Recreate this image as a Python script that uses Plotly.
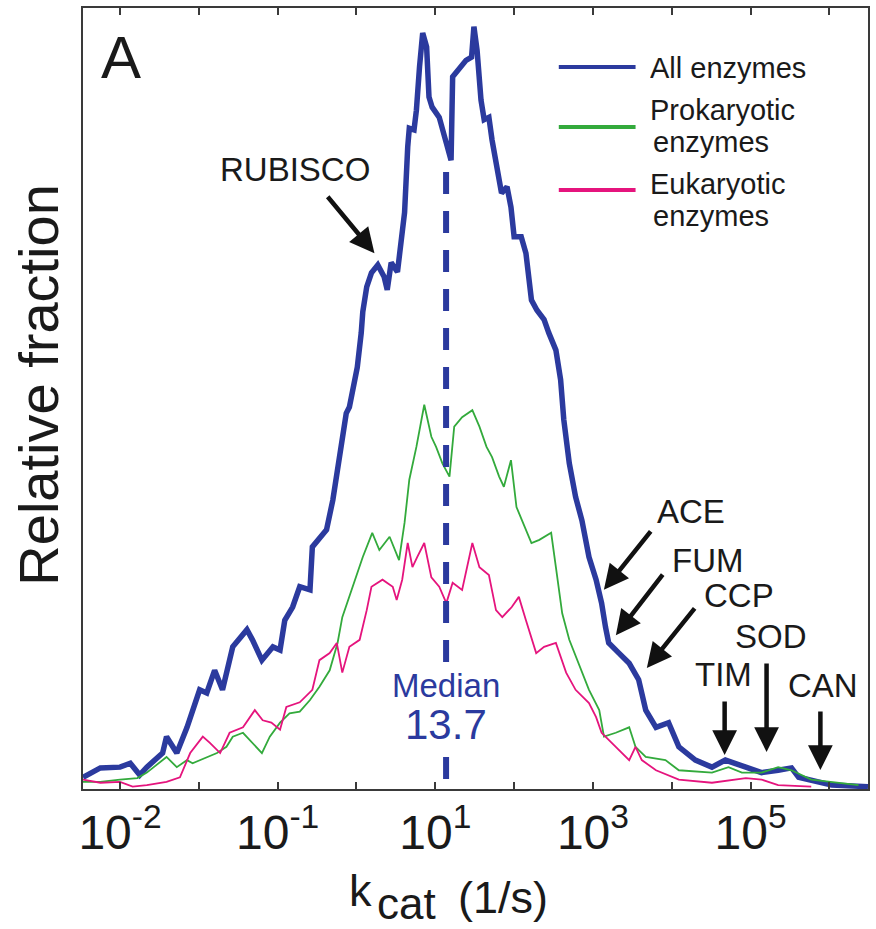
import math
import plotly.graph_objects as go

# ---- kcat distributions (log10 kcat in 1/s, relative fraction in arbitrary units) ----
all_logk = [-3.47, -3.25, -3.00, -2.87, -2.75, -2.66, -2.46, -2.41, -2.28, -2.15,
            -1.99, -1.90, -1.80, -1.70, -1.57, -1.39, -1.32, -1.20, -1.06, -0.97,
            -0.91, -0.81, -0.72, -0.59, -0.56, -0.38, -0.30, -0.13, -0.09, 0.01,
            0.06, 0.08, 0.13, 0.19, 0.27, 0.35, 0.39, 0.44, 0.52, 0.57,
            0.61, 0.65, 0.67, 0.73, 0.76, 0.80, 0.84, 0.89, 0.92, 0.96,
            1.05, 1.14, 1.20, 1.22, 1.30, 1.39, 1.46, 1.49, 1.53, 1.58,
            1.62, 1.68, 1.72, 1.77, 1.84, 1.91, 1.96, 2.00, 2.09, 2.15,
            2.22, 2.29, 2.38, 2.44, 2.53, 2.59, 2.63, 2.70, 2.78, 2.86,
            2.95, 3.04, 3.11, 3.16, 3.20, 3.33, 3.46, 3.58, 3.67, 3.80,
            3.96, 4.09, 4.30, 4.51, 4.68, 4.94, 5.14, 5.35, 5.52, 5.61,
            5.86, 6.03, 6.49]
all_frac = [1.5, 2.7, 2.8, 3.3, 1.8, 2.8, 4.6, 6.7, 4.6, 7.9,
            12.7, 12.3, 15.2, 12.7, 18.2, 20.4, 19.1, 16.5, 18.2, 17.8,
            21.6, 23.3, 25.9, 25.5, 31.0, 33.2, 37.0, 48.1, 48.9, 54.0,
            58.4, 61.1, 64.3, 66.1, 67.1, 65.6, 63.9, 67.4, 66.2, 71.2,
            73.8, 82.2, 84.6, 84.4, 86.9, 92.5, 96.8, 95.0, 88.6, 87.3,
            86.0, 82.7, 80.5, 91.2, 92.1, 93.3, 93.7, 97.6, 94.6, 88.2,
            85.7, 86.0, 83.1, 80.5, 76.3, 77.1, 74.5, 70.7, 70.7, 68.6,
            62.6, 61.3, 60.1, 58.4, 56.2, 52.4, 47.3, 41.7, 37.4, 34.4,
            29.7, 26.8, 23.8, 20.7, 18.7, 17.4, 16.1, 14.0, 10.1, 7.9,
            8.5, 5.4, 3.7, 2.8, 3.7, 2.8, 2.1, 2.4, 2.7, 1.5,
            0.9, 0.5, 0.3]

prok_logk = [-3.47, -3.25, -3.00, -2.78, -2.66, -2.41, -2.28, -2.15, -2.08, -1.90,
             -1.77, -1.65, -1.57, -1.44, -1.32, -1.20, -1.10, -0.97, -0.85, -0.72,
             -0.59, -0.47, -0.34, -0.24, -0.18, -0.05, 0.08, 0.20, 0.29, 0.42,
             0.54, 0.61, 0.67, 0.76, 0.86, 0.95, 1.01, 1.09, 1.18, 1.24,
             1.34, 1.47, 1.56, 1.65, 1.72, 1.81, 1.87, 1.96, 2.03, 2.10,
             2.22, 2.32, 2.47, 2.53, 2.61, 2.70, 2.82, 2.95, 3.08, 3.14,
             3.29, 3.46, 3.54, 3.67, 3.92, 4.09, 4.51, 4.72, 4.89, 5.14,
             5.35, 5.52, 5.77, 6.03, 6.37]
prok_frac = [0.9, 0.9, 1.2, 1.4, 2.1, 4.1, 2.8, 3.7, 3.3, 4.1,
             4.6, 5.4, 6.7, 7.2, 5.9, 4.6, 6.7, 8.5, 9.7, 9.9,
             11.4, 13.1, 15.2, 18.7, 22.0, 25.9, 29.7, 32.8, 30.6, 32.3,
             29.3, 34.1, 39.6, 43.8, 49.2, 45.1, 43.8, 41.7, 40.0, 46.4,
             47.6, 48.5, 46.4, 43.8, 42.5, 40.0, 38.7, 42.1, 36.1, 34.4,
             31.5, 31.9, 32.8, 28.4, 22.5, 19.1, 16.1, 12.7, 10.1, 6.7,
             7.2, 7.9, 5.4, 4.1, 3.7, 2.4, 2.1, 2.8, 2.1, 2.1,
             2.8, 2.4, 1.2, 0.9, 0.5]

euk_logk = [-3.47, -3.25, -3.00, -2.84, -2.66, -2.41, -2.24, -2.11, -1.95, -1.86,
            -1.73, -1.61, -1.44, -1.29, -1.19, -1.08, -0.97, -0.89, -0.72, -0.56,
            -0.47, -0.34, -0.25, -0.18, -0.09, 0.04, 0.13, 0.19, 0.33, 0.46,
            0.51, 0.58, 0.65, 0.71, 0.77, 0.86, 0.95, 1.05, 1.14, 1.22,
            1.34, 1.47, 1.56, 1.68, 1.77, 1.85, 1.97, 2.06, 2.15, 2.28,
            2.38, 2.53, 2.66, 2.78, 2.95, 3.04, 3.11, 3.24, 3.37, 3.46,
            3.54, 3.62, 3.80, 4.09, 4.51, 4.94, 5.14, 5.35, 5.77]
euk_frac = [1.2, 0.8, 0.9, 0.3, 0.5, 0.9, 1.5, 4.6, 6.7, 5.9,
            4.6, 7.2, 7.9, 10.1, 8.8, 8.5, 7.6, 10.5, 11.1, 12.7,
            16.5, 17.4, 18.7, 14.9, 18.2, 19.1, 22.9, 25.9, 26.8, 25.9,
            24.2, 26.8, 31.5, 28.4, 29.7, 31.5, 27.1, 25.9, 23.8, 26.4,
            25.5, 31.5, 28.4, 27.4, 22.9, 22.0, 23.3, 24.6, 21.6, 17.4,
            18.2, 18.7, 14.9, 12.7, 11.0, 9.2, 7.2, 5.9, 4.6, 3.7,
            5.4, 3.7, 2.4, 1.2, 0.8, 1.4, 1.2, 0.5, 0.3]

median_kcat = 13.7
median_top = 79.0

# labelled decades and their printed labels; the remaining decades get bare ticks
major_exponents = [-3, -1, 1, 3, 5]
major_labels = ["10<sup>-2</sup>", "10<sup>-1</sup>", "10<sup>1</sup>",
                "10<sup>3</sup>", "10<sup>5</sup>"]
minor_exponents = [-2, 0, 2, 4, 6]

# enzyme markers: name, arrow tip (log10 kcat, fraction), tail offset (px), label position
enzyme_names = ["RUBISCO", "ACE", "FUM", "CCP", "TIM", "SOD", "CAN"]
enzyme_tip_logk = [0.228, 3.139, 3.291, 3.684, 4.671, 5.203, 5.886]
enzyme_tip_frac = [68.6, 25.5, 19.7, 15.5, 4.35, 4.74, 2.43]
enzyme_tail_dx = [-48, 48, 48, 49, 0, 0, 0]
enzyme_tail_dy = [-58, -60, -62, -61, -55, -90, -60]
enzyme_label_logk = [-0.785, 4.241, 4.456, 4.848, 4.658, 5.253, 5.924]
enzyme_label_frac = [79.3, 35.5, 29.3, 24.8, 14.6, 19.5, 13.3]

BLUE = "#2b3a9e"
GREEN = "#33aa3c"
PINK = "#e5147d"
INK = "#1a1a1a"
AXIS = "#3a3a3a"
FONT = "Liberation Sans, Arial, sans-serif"

fig = go.Figure()

fig.add_trace(go.Scatter(x=[10 ** v for v in all_logk], y=all_frac, mode="lines",
                         line=dict(color=BLUE, width=5.5), name="All enzymes",
                         showlegend=False))
fig.add_trace(go.Scatter(x=[10 ** v for v in prok_logk], y=prok_frac, mode="lines",
                         line=dict(color=GREEN, width=1.8), name="Prokaryotic enzymes",
                         showlegend=False))
fig.add_trace(go.Scatter(x=[10 ** v for v in euk_logk], y=euk_frac, mode="lines",
                         line=dict(color=PINK, width=1.8), name="Eukaryotic enzymes",
                         showlegend=False))
fig.add_trace(go.Scatter(x=[median_kcat, median_kcat], y=[median_top, 0], mode="lines",
                         line=dict(color=BLUE, width=6, dash="22px,17px"),
                         showlegend=False))

annotations = []

# panel letter
annotations.append(dict(text="A", xref="paper", yref="paper", x=0.048, y=0.936,
                        xanchor="center", yanchor="middle", showarrow=False,
                        font=dict(size=60, family=FONT, color=INK)))

# median label
annotations.append(dict(text="Median", x=math.log10(median_kcat), y=13.3, showarrow=False,
                        font=dict(size=33, family=FONT, color=BLUE), bgcolor="white"))
annotations.append(dict(text=f"{median_kcat}", x=math.log10(median_kcat), y=8.2,
                        showarrow=False, font=dict(size=42, family=FONT, color=BLUE),
                        bgcolor="white"))

# enzyme arrows and labels
for name, tx, ty, dx, dy, lx, ly in zip(enzyme_names, enzyme_tip_logk, enzyme_tip_frac,
                                        enzyme_tail_dx, enzyme_tail_dy,
                                        enzyme_label_logk, enzyme_label_frac):
    annotations.append(dict(text="", x=tx, y=ty, ax=dx, ay=dy, showarrow=True,
                            arrowhead=2, arrowsize=1.1, arrowwidth=4.5,
                            arrowcolor="#111111", standoff=0))
    annotations.append(dict(text=name, x=lx, y=ly, showarrow=False,
                            font=dict(size=33, family=FONT, color=INK)))

# hand-made legend: sample line plus one or two text rows per series
legend_rows = [(BLUE, 0.9245, [("All enzymes", 0.7205, 0.9232)]),
               (GREEN, 0.8476, [("Prokaryotic", 0.7205, 0.8694),
                                ("enzymes", 0.7243, 0.8284)]),
               (PINK, 0.7670, [("Eukaryotic", 0.7205, 0.7746),
                               ("enzymes", 0.7243, 0.7336)])]
shapes = []
for color, ly, lines in legend_rows:
    shapes.append(dict(type="line", xref="paper", yref="paper", x0=0.6061, x1=0.7039,
                       y0=ly, y1=ly, line=dict(color=color, width=4)))
    for txt, tx, ty in lines:
        annotations.append(dict(text=txt, xref="paper", yref="paper", x=tx, y=ty,
                                xanchor="left", yanchor="middle", showarrow=False,
                                height=32, borderpad=0,
                                font=dict(size=29, family=FONT, color=INK)))

# axis titles
annotations.append(dict(text="Relative fraction", xref="paper", yref="paper",
                        x=-0.057, y=0.518, textangle=-90, showarrow=False,
                        xanchor="center", yanchor="middle",
                        font=dict(size=56, family=FONT, color=INK)))
annotations.append(dict(text="k", xref="paper", yref="paper", x=0.3532, y=-0.1306,
                        xanchor="center", yanchor="middle", showarrow=False,
                        font=dict(size=45, family=FONT, color=INK)))
annotations.append(dict(text="cat", xref="paper", yref="paper", x=0.4123, y=-0.146,
                        xanchor="center", yanchor="middle", showarrow=False,
                        font=dict(size=44, family=FONT, color=INK)))
annotations.append(dict(text="(1/s)", xref="paper", yref="paper", x=0.5349, y=-0.1383,
                        xanchor="center", yanchor="middle", showarrow=False,
                        font=dict(size=45, family=FONT, color=INK)))

fig.update_layout(
    width=876, height=929,
    margin=dict(l=83, r=6, t=8, b=140),
    paper_bgcolor="white", plot_bgcolor="white",
    font=dict(family=FONT, color=INK),
    shapes=shapes,
    annotations=annotations,
    xaxis=dict(type="log", range=[-3.47, 6.49],
               tickvals=[10 ** e for e in major_exponents], ticktext=major_labels,
               ticks="inside", ticklen=7, tickwidth=2, tickcolor=AXIS,
               minor=dict(tickvals=[10 ** e for e in minor_exponents], ticks="inside",
                          ticklen=7, tickwidth=2, tickcolor=AXIS, showgrid=False),
               showline=True, linecolor=AXIS, linewidth=2, mirror="allticks",
               showgrid=False, zeroline=False,
               tickfont=dict(size=48, family=FONT, color=INK)),
    yaxis=dict(range=[0, 100], showticklabels=False, ticks="",
               showline=True, linecolor=AXIS, linewidth=2, mirror=True,
               showgrid=False, zeroline=False),
)

fig.write_html("out.html")
